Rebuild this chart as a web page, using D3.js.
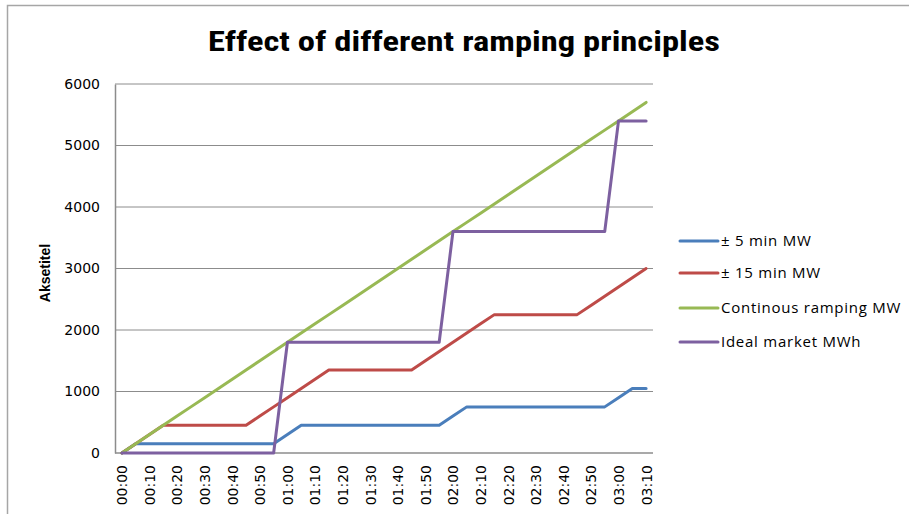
<!DOCTYPE html>
<html>
<head>
<meta charset="utf-8">
<script src="https://cdn.jsdelivr.net/npm/d3@7"></script>
<style>
  body { margin: 0; background: #fff; }
  svg { display: block; }
</style>
</head>
<body>
<div id="chart"></div>
<script>
// 5-minute steps, labels shown every 10 minutes
let times = ["00:00","00:05","00:10","00:15","00:20","00:25","00:30","00:35","00:40","00:45",
    "00:50","00:55","01:00","01:05","01:10","01:15","01:20","01:25","01:30","01:35",
    "01:40","01:45","01:50","01:55","02:00","02:05","02:10","02:15","02:20","02:25",
    "02:30","02:35","02:40","02:45","02:50","02:55","03:00","03:05","03:10"];

let min5 = [0,150,150,150,150,150,150,150,150,150,
    150,150,300,450,450,450,450,450,450,450,
    450,450,450,450,600,750,750,750,750,750,
    750,750,750,750,750,750,900,1050,1050];

let min15 = [0,150,300,450,450,450,450,450,450,450,
    600,750,900,1050,1200,1350,1350,1350,1350,1350,
    1350,1350,1500,1650,1800,1950,2100,2250,2250,2250,
    2250,2250,2250,2250,2400,2550,2700,2850,3000];

let continous = [0,150,300,450,600,750,900,1050,1200,1350,
    1500,1650,1800,1950,2100,2250,2400,2550,2700,2850,
    3000,3150,3300,3450,3600,3750,3900,4050,4200,4350,
    4500,4650,4800,4950,5100,5250,5400,5550,5700];

let ideal = [0,0,0,0,0,0,0,0,0,0,
    0,0,1800,1800,1800,1800,1800,1800,1800,1800,
    1800,1800,1800,1800,3600,3600,3600,3600,3600,3600,
    3600,3600,3600,3600,3600,3600,5400,5400,5400];

let seriesNames = ["\u00b1 5 min MW", "\u00b1 15 min MW", "Continous ramping MW", "Ideal market MWh"];
let seriesColors = ["#4a7ebb", "#be4b48", "#98b954", "#7d60a0"];
let yTicks = [0, 1000, 2000, 3000, 4000, 5000, 6000];

let W = 909, H = 514;
let plot = {left: 115, right: 653, top: 84, bottom: 453};

let svg = d3.select("#chart").append("svg")
    .attr("width", W)
    .attr("height", H);

// chart frame (extends past the window on right and bottom)
svg.append("rect")
    .attr("x", 7.5).attr("y", 5.5)
    .attr("width", W + 20).attr("height", H + 20)
    .attr("fill", "#fff")
    .attr("stroke", "#a6a6a6")
    .attr("stroke-width", 1.5);

// title
svg.append("text")
    .attr("x", 464)
    .attr("y", 51)
    .attr("text-anchor", "middle")
    .attr("font-family", "'Liberation Sans Narrow', 'Roboto Condensed', 'Arial Narrow', sans-serif")
    .attr("font-weight", "bold")
    .attr("font-size", "28px")
    .attr("textLength", 512)
    .attr("lengthAdjust", "spacingAndGlyphs")
    .attr("fill", "#000")
    .text("Effect of different ramping principles");

// scales
let x = d3.scalePoint()
    .domain(times)
    .range([plot.left, plot.right])
    .padding(0.5);

let y = d3.scaleLinear()
    .domain([0, 6000])
    .range([plot.bottom, plot.top]);

// gridlines
svg.append("g")
    .selectAll("line")
    .data(yTicks.slice(1))
    .join("line")
        .attr("x1", plot.left).attr("x2", plot.right)
        .attr("y1", d => y(d)).attr("y2", d => y(d))
        .attr("stroke", "#8c8c8c")
        .attr("stroke-width", 1);

// y axis
let yAxis = d3.axisLeft(y)
    .tickValues(yTicks)
    .tickFormat(d3.format("d"))
    .tickSize(0)
    .tickPadding(15);

let yG = svg.append("g")
    .attr("transform", "translate(" + plot.left + ",0)")
    .call(yAxis);
yG.select(".domain").attr("stroke", "#8c8c8c").attr("stroke-width", 1.5);
yG.selectAll("text")
    .attr("font-family", "'DejaVu Sans', Verdana, sans-serif")
    .attr("font-size", "14px")
    .attr("fill", "#000");

// x axis
let xAxis = d3.axisBottom(x)
    .tickValues(times.filter((t, i) => i % 2 === 0))
    .tickSize(0)
    .tickSizeOuter(0);

let xG = svg.append("g")
    .attr("transform", "translate(0," + plot.bottom + ")")
    .call(xAxis);
xG.select(".domain")
    .attr("d", "M" + plot.left + ",0H" + plot.right)
    .attr("stroke", "#8c8c8c").attr("stroke-width", 1.5);
xG.selectAll("text")
    .attr("font-family", "'DejaVu Sans', Verdana, sans-serif")
    .attr("font-size", "14px")
    .attr("fill", "#000")
    .attr("text-anchor", "end")
    .attr("transform", "rotate(-90)")
    .attr("x", -12)
    .attr("y", 0)
    .attr("dy", "0.35em");

// y axis title
svg.append("text")
    .attr("transform", "translate(50,273) rotate(-90)")
    .attr("text-anchor", "middle")
    .attr("font-family", "'Liberation Sans', Arial, sans-serif")
    .attr("font-weight", "bold")
    .attr("font-size", "14px")
    .attr("fill", "#000")
    .text("Aksetitel");

// lines
let allSeries = [min5, min15, continous, ideal];
let line = d3.line()
    .x((d, i) => x(times[i]))
    .y(d => y(d));

svg.append("g")
    .selectAll("path")
    .data(allSeries)
    .join("path")
        .attr("d", line)
        .attr("fill", "none")
        .attr("stroke", (d, i) => seriesColors[i])
        .attr("stroke-width", 3)
        .attr("stroke-linejoin", "round")
        .attr("stroke-linecap", "round");

// legend
let legendY = [241, 273, 308, 342];
let legend = svg.append("g")
    .selectAll("g")
    .data(seriesNames)
    .join("g")
        .attr("transform", (d, i) => "translate(680," + legendY[i] + ")");

legend.append("line")
    .attr("x1", 0).attr("x2", 38)
    .attr("stroke", (d, i) => seriesColors[i])
    .attr("stroke-width", 3)
    .attr("stroke-linecap", "round");

legend.append("text")
    .attr("x", 41)
    .attr("dy", "0.35em")
    .attr("font-family", "'Open Sans', sans-serif")
    .attr("font-size", "15px")
    .attr("letter-spacing", "0.75px")
    .attr("fill", "#000")
    .text(d => d);
</script>
</body>
</html>
